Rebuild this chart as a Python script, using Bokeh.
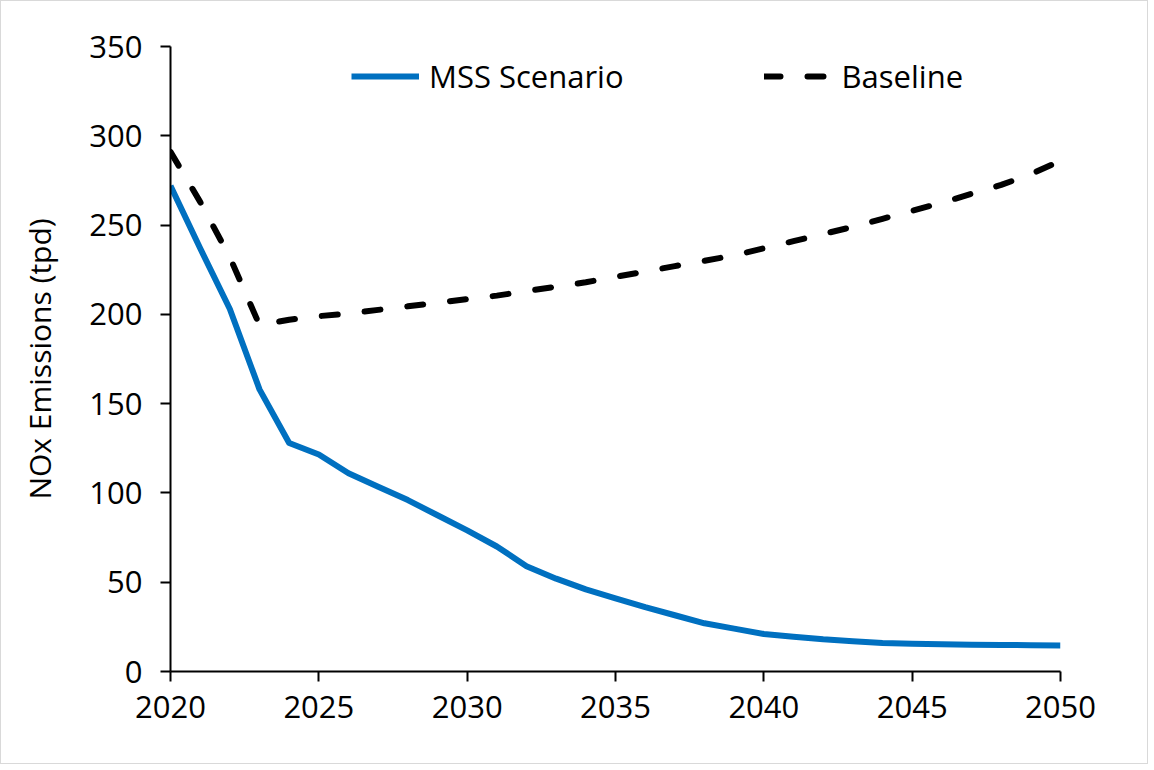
from bokeh.plotting import figure
from bokeh.models import Legend, LegendItem, FixedTicker, Range1d
from bokeh.embed import file_html
from bokeh.resources import INLINE

years = list(range(2020, 2051))
mss = [272, 237, 203, 158, 128, 121.5, 111, 103.5, 96, 87.5, 79, 70, 59, 52, 46, 41,
       36, 31.5, 27, 24, 21, 19.5, 18, 17, 16, 15.5, 15.2, 15, 14.9, 14.7, 14.6]
baseline = [291, 263, 232, 194, 197, 199, 200.5, 202.5, 204.5, 206.5, 208.5, 210.5,
            213, 215.5, 218, 221, 224, 227, 230, 233, 237, 241, 245, 249, 253.5, 258,
            262.5, 267.5, 272.5, 278.5, 286]
x_ticks = [2020, 2025, 2030, 2035, 2040, 2045, 2050]
y_ticks = [0, 50, 100, 150, 200, 250, 300, 350]

FONT = "Open Sans"
W, H = 1148, 764
p = figure(width=W, height=H, output_backend="svg", toolbar_location=None,
           x_range=Range1d(2020, 2050), y_range=Range1d(0, 350),
           min_border_left=169, min_border_top=45, min_border_right=W - 169 - 890,
           min_border_bottom=H - 45 - 625)
p.outline_line_color = None
p.xgrid.visible = False
p.ygrid.visible = False
p.styles = {"border": "1px solid #d9d9d9"}

for ax in (p.xaxis[0], p.yaxis[0]):
    ax.axis_line_color = "black"
    ax.axis_line_width = 2
    ax.major_tick_line_color = "black"
    ax.major_tick_line_width = 2
    ax.minor_tick_line_color = None
    ax.major_tick_in = 0
    ax.major_tick_out = 10
    ax.major_label_text_font = FONT
    ax.major_label_text_font_size = "31px"
    ax.major_label_text_color = "black"

p.xaxis.ticker = FixedTicker(ticks=x_ticks)
p.yaxis.ticker = FixedTicker(ticks=y_ticks)
p.xaxis.major_label_standoff = 14
p.yaxis.major_label_standoff = 18
p.yaxis.axis_label = "NOx Emissions (tpd)"
p.yaxis.axis_label_text_font = FONT
p.yaxis.axis_label_text_font_size = "30px"
p.yaxis.axis_label_text_font_style = "normal"
p.yaxis.axis_label_text_color = "black"
p.yaxis.axis_label_standoff = 26

r1 = p.line(years, mss, line_color="#0070C0", line_width=6, line_join="round")
r2 = p.line(years, baseline, line_color="black", line_width=6, line_dash="16 27",
            line_cap="round", line_join="round")

legend = Legend(items=[LegendItem(label="MSS Scenario", renderers=[r1]),
                       LegendItem(label="Baseline", renderers=[r2])],
                orientation="horizontal", location=(181, 574),
                glyph_width=68, glyph_height=20, label_standoff=10, spacing=140,
                label_text_font=FONT, label_text_font_size="31px",
                label_text_color="black", border_line_color=None,
                background_fill_alpha=0, padding=0, margin=0)
p.add_layout(legend, "center")

open("out.html", "w").write(file_html(p, INLINE))
